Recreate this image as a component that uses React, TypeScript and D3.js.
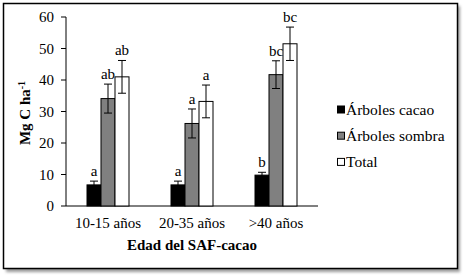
import React from "react";
import * as d3 from "d3";

const categories = ["10-15 años", "20-35 años", ">40 años"];
const seriesNames = ["Árboles cacao", "Árboles sombra", "Total"];
const cacao = [6.7, 6.7, 9.8];
const cacaoErr = [1.2, 1.2, 0.9];
const sombra = [34.1, 26.2, 41.7];
const sombraErr = [4.6, 4.6, 4.4];
const total = [41.0, 33.2, 51.5];
const totalErr = [5.2, 5.2, 5.3];
const cacaoLetters = ["a", "a", "b"];
const sombraLetters = ["ab", "a", "bc"];
const totalLetters = ["ab", "a", "bc"];
const yTicks = [0, 10, 20, 30, 40, 50, 60];
const colors = ["#000000", "#808080", "#ffffff"];

const FS = { fontFamily: "Liberation Serif" };

export default function App() {
  const W = 467, H = 279;
  const x0 = d3.scaleBand().domain(categories).range([66, 318]).paddingInner(0).paddingOuter(0);
  const y = d3.scaleLinear().domain([0, 60]).range([206, 17]);
  const barW = 14;
  const values = [cacao, sombra, total];
  const errs = [cacaoErr, sombraErr, totalErr];
  const letters = [cacaoLetters, sombraLetters, totalLetters];

  return (
    <svg width={W} height={H} style={{ position: "absolute", left: 0, top: 0 }}>
      <defs>
        <filter id="sh" x="-5%" y="-5%" width="115%" height="115%">
          <feGaussianBlur stdDeviation="1.5" />
        </filter>
      </defs>
      <rect x={0} y={0} width={W} height={H} fill="#fff" />
      <rect x={6} y={6} width={454} height={266} fill="#9a9a9a" filter="url(#sh)" />
      <rect x={3.5} y={3.5} width={454} height={265} fill="#fff" stroke="#000" strokeWidth={1.5} />

      {/* y axis */}
      <line x1={66} x2={66} y1={y(60)} y2={y(0)} stroke="#000" strokeWidth={1} />
      {yTicks.map((t) => (
        <g key={t}>
          <line x1={61} x2={66} y1={y(t)} y2={y(t)} stroke="#000" />
          <text x={54} y={y(t)} dy="0.35em" textAnchor="end" fontSize={15} style={FS}>{t}</text>
        </g>
      ))}
      <line x1={66} x2={318} y1={y(0)} y2={y(0)} stroke="#000" />

      {/* bars */}
      {categories.map((c, ci) => {
        const cx = (x0(c) as number) + x0.bandwidth() / 2;
        return (
          <g key={c}>
            {values.map((vals, si) => {
              const bx = cx - 1.5 * barW + si * barW;
              const v = vals[ci];
              const e = errs[si][ci];
              const mid = bx + barW / 2;
              return (
                <g key={si}>
                  <rect x={bx} y={y(v)} width={barW} height={y(0) - y(v)} fill={colors[si]} stroke="#000" strokeWidth={1} />
                  <line x1={mid} x2={mid} y1={y(v + e)} y2={y(Math.max(0, v - e))} stroke="#000" strokeWidth={1} />
                  <line x1={mid - 4} x2={mid + 4} y1={y(v + e)} y2={y(v + e)} stroke="#000" strokeWidth={1} />
                  <line x1={mid - 4} x2={mid + 4} y1={y(Math.max(0, v - e))} y2={y(Math.max(0, v - e))} stroke="#000" strokeWidth={1} />
                  <text x={mid} y={y(v + e) - 5} textAnchor="middle" fontSize={15} style={FS}>{letters[si][ci]}</text>
                </g>
              );
            })}
            <text x={cx} y={228} textAnchor="middle" fontSize={15} style={FS}>{c}</text>
          </g>
        );
      })}

      {/* axis titles */}
      <text x={192} y={250} textAnchor="middle" fontSize={15} fontWeight="bold" style={FS}>Edad del SAF-cacao</text>
      <text transform={`translate(30,113) rotate(-90)`} textAnchor="middle" fontSize={15} fontWeight="bold" style={FS}>
        Mg C ha<tspan dy={-5} fontSize={10}>-1</tspan>
      </text>

      {/* legend */}
      {seriesNames.map((n, i) => {
        const ly = 109.5 + i * 26.2;
        return (
          <g key={n}>
            <rect x={337.5} y={ly - 3.5} width={7} height={7} fill={colors[i]} stroke="#000" strokeWidth={1} />
            <text x={346} y={ly} dy="0.35em" fontSize={15.5} style={FS}>{n}</text>
          </g>
        );
      })}
    </svg>
  );
}
